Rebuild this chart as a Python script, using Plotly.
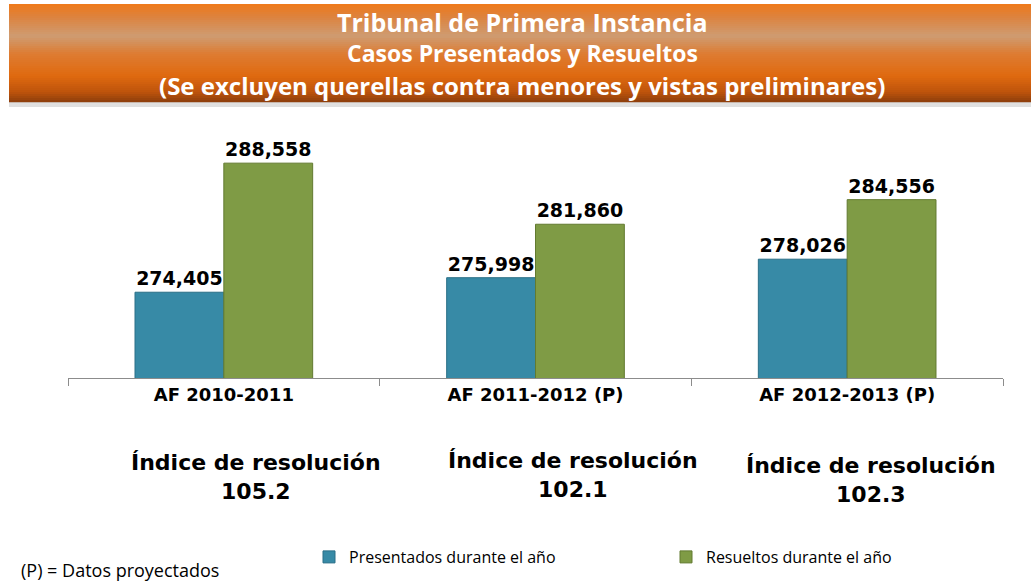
import plotly.graph_objects as go

# Data
categories = ["AF 2010-2011", "AF 2011-2012 (P)", "AF 2012-2013 (P)"]
presentados = [274405, 275998, 278026]
resueltos = [288558, 281860, 284556]
indice = ["105.2", "102.1", "102.3"]

title_lines = [
    "Tribunal de Primera Instancia",
    "Casos Presentados y Resueltos",
    "(Se excluyen querellas contra menores y vistas preliminares)",
]

W, H = 1033, 581
color_blue = "#378AA6"
color_green = "#7F9B45"
label_font = dict(family="DejaVu Sans", size=19, color="black")


def py(px):
    return 1 - px / H


def px_x(px):
    return px / W


fig = go.Figure()

fig.add_trace(go.Bar(
    x=categories, y=presentados, name="Presentados durante el año",
    marker=dict(color=color_blue, line=dict(color="#2A6F87", width=1)),
    text=[f"<b>{v:,}</b>" for v in presentados], textposition="outside",
    textfont=label_font, cliponaxis=False,
))
fig.add_trace(go.Bar(
    x=categories, y=resueltos, name="Resueltos durante el año",
    marker=dict(color=color_green, line=dict(color="#627A30", width=1)),
    text=[f"<b>{v:,}</b>" for v in resueltos], textposition="outside",
    textfont=label_font, cliponaxis=False,
))

# Banner gradient (stacked thin stripes)
stops = [
    (0, (240, 122, 26)),
    (12, (222, 130, 60)),
    (32, (207, 156, 114)),
    (50, (222, 124, 50)),
    (72, (224, 106, 16)),
    (88, (190, 84, 12)),
    (98, (140, 62, 12)),
]
top, bottom = 4, 102
shapes = []
n = 49
for i in range(n):
    a = top + (bottom - top) * i / n
    b = top + (bottom - top) * (i + 1) / n
    t = (a + b) / 2 - top
    for j in range(len(stops) - 1):
        if stops[j][0] <= t <= stops[j + 1][0]:
            f = (t - stops[j][0]) / (stops[j + 1][0] - stops[j][0])
            c = tuple(int(stops[j][1][k] + f * (stops[j + 1][1][k] - stops[j][1][k])) for k in range(3))
            break
    else:
        c = stops[-1][1]
    shapes.append(dict(
        type="rect", xref="paper", yref="paper", layer="below",
        x0=px_x(9), x1=px_x(1031), y0=py(b + 0.3), y1=py(a),
        fillcolor="rgb(%d,%d,%d)" % c, line=dict(width=0),
    ))
# shadow below banner
shapes.append(dict(
    type="rect", xref="paper", yref="paper", layer="below",
    x0=px_x(9), x1=px_x(1031), y0=py(107), y1=py(102),
    fillcolor="rgba(0,0,0,0.12)", line=dict(width=0),
))

annotations = []
title_y = [22, 53, 85]
title_sizes = [25, 23, 24]
for txt, yy, sz in zip(title_lines, title_y, title_sizes):
    annotations.append(dict(
        text=f"<b>{txt}</b>", xref="paper", yref="paper",
        x=px_x(522), y=py(yy), xanchor="center", yanchor="middle", showarrow=False,
        font=dict(family="Open Sans", size=sz, color="white"),
    ))

idx_x = [256, 573, 871]
idx_y = [463, 461, 466]
for xx, yy, val in zip(idx_x, idx_y, indice):
    annotations.append(dict(
        text=f"<b>Índice de resolución</b><br><b>{val}</b>",
        xref="paper", yref="paper", x=px_x(xx), y=py(yy - 15),
        xanchor="center", yanchor="top", showarrow=False, align="center",
        font=dict(family="DejaVu Sans", size=22, color="black"),
    ))

annotations.append(dict(
    text="(P) = Datos proyectados", xref="paper", yref="paper",
    x=px_x(19), y=py(570), xanchor="left", yanchor="middle", showarrow=False,
    font=dict(family="Open Sans", size=18, color="black"),
))

fig.update_layout(
    width=W, height=H,
    margin=dict(l=0, r=0, t=0, b=0, autoexpand=False),
    paper_bgcolor="white", plot_bgcolor="white",
    barmode="group", bargap=0.43, bargroupgap=0,
    showlegend=True,
    legend=dict(
        orientation="h", x=px_x(309), y=py(557), xanchor="left", yanchor="middle",
        font=dict(family="Open Sans", size=16, color="black"),
        entrywidth=312, itemwidth=30,
    ),
    xaxis=dict(
        domain=[px_x(68), px_x(1003)],
        showline=True, linecolor="#8C8C8C", linewidth=1,
        ticks="outside", tickson="boundaries", ticklen=7, tickcolor="#8C8C8C",
        tickfont=dict(family="DejaVu Sans", size=18, color="black"),
        showgrid=False,
    ),
    yaxis=dict(
        domain=[py(378), py(150)], range=[265000, 290000],
        visible=False, showgrid=False,
    ),
    shapes=shapes,
    annotations=annotations,
)
fig.update_xaxes(tickprefix="<b>", ticksuffix="</b>")

fig.write_html(
    "out.html",
    config={"displayModeBar": False},
    post_script="document.body.style.margin='0';",
)
